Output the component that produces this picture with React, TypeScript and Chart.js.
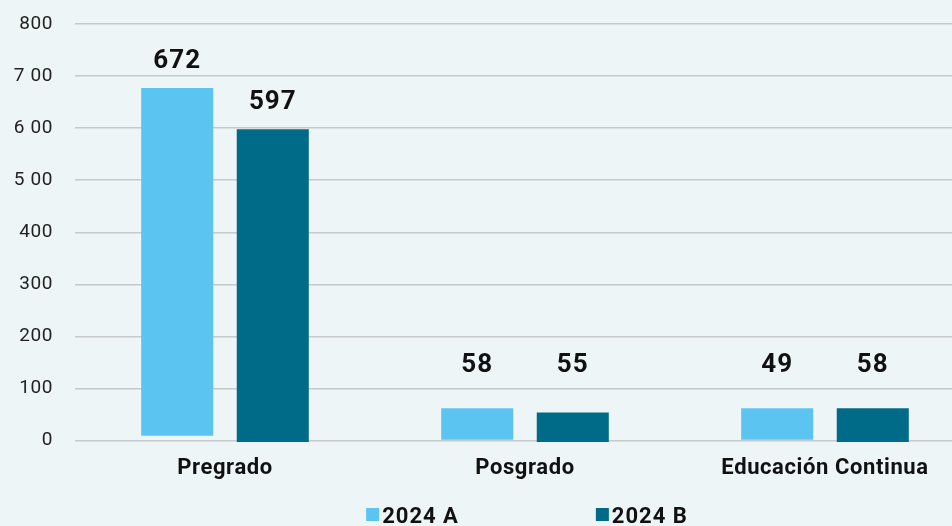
import React, { useEffect, useRef } from "react";
import { Chart, registerables } from "chart.js";

Chart.register(...registerables);

const categories = ["Pregrado", "Posgrado", "Educación Continua"];
const seriesNames = ["2024 A", "2024 B"];
// bar extents as drawn in the picture [base, top]
const seriesABase = [9, 0, 0];
const seriesATop = [677, 62, 62];
const seriesBBase = [-3, -3, -3];
const seriesBTop = [598, 54, 62];
// printed value labels
const labelsA = ["672", "58", "49"];
const labelsB = ["597", "55", "58"];
const yTickLabels = ["0", "100", "200", "300", "400", "5 00", "6 00", "7 00", "800"];

const FONT = "Roboto, 'Noto Sans', sans-serif";
const COLOR_A = "#5BC4F1";
const COLOR_B = "#006B88";
const BG = "#EDF5F6";

export default function App() {
  const ref = useRef<HTMLCanvasElement | null>(null);

  useEffect(() => {
    if (!ref.current) return;
    const spacing = {
      id: "spacing",
      beforeLayout(chart: any) {
        chart.ctx.letterSpacing = "0.6px";
      },
      beforeDraw(chart: any) {
        chart.ctx.letterSpacing = "0.6px";
      },
    };
    const valueLabels = {
      id: "valueLabels",
      afterDatasetsDraw(chart: any) {
        const ctx = chart.ctx;
        const yScale = chart.scales.y;
        const all = [labelsA, labelsB];
        ctx.save();
        ctx.letterSpacing = "1px";
        ctx.font = `bold 26px ${FONT}`;
        ctx.fillStyle = "#111111";
        ctx.textAlign = "center";
        ctx.textBaseline = "middle";
        chart.data.datasets.forEach((_d: any, di: number) => {
          const meta = chart.getDatasetMeta(di);
          meta.data.forEach((bar: any, i: number) => {
            const y = Math.min(bar.y - 27, yScale.getPixelForValue(145));
            ctx.fillText(all[di][i], bar.x, y);
          });
        });
        ctx.restore();
      },
    };
    const customLegend = {
      id: "customLegend",
      afterDraw(chart: any) {
        const ctx = chart.ctx;
        const area = chart.chartArea;
        ctx.save();
        ctx.letterSpacing = "1px";
        ctx.font = `bold 22px ${FONT}`;
        ctx.textBaseline = "middle";
        ctx.textAlign = "left";
        const box = 13;
        const gap = 3;
        const itemGap = 137;
        const items = chart.data.datasets.map((d: any) => ({
          text: d.label,
          color: d.backgroundColor,
          w: box + gap + ctx.measureText(d.label).width,
        }));
        const total = items.reduce((s: number, it: any) => s + it.w, 0) + itemGap * (items.length - 1);
        let x = (area.left + area.right) / 2 - total / 2 + 2;
        const cy = 516;
        items.forEach((it: any) => {
          ctx.fillStyle = it.color;
          ctx.fillRect(x, cy - 8, box, box);
          ctx.fillStyle = "#111111";
          ctx.fillText(it.text, x + box + gap, cy + 1);
          x += it.w + itemGap;
        });
        ctx.restore();
      },
    };

    const chart = new Chart(ref.current, {
      type: "bar",
      data: {
        labels: categories,
        datasets: [
          {
            label: seriesNames[0],
            data: seriesATop.map((t, i) => [seriesABase[i], t]) as any,
            backgroundColor: COLOR_A,
            categoryPercentage: 0.637,
            barPercentage: 0.754,
            clip: 6 as any,
          },
          {
            label: seriesNames[1],
            data: seriesBTop.map((t, i) => [seriesBBase[i], t]) as any,
            backgroundColor: COLOR_B,
            categoryPercentage: 0.637,
            barPercentage: 0.754,
            clip: 6 as any,
          },
        ],
      },
      options: {
        animation: false,
        responsive: true,
        maintainAspectRatio: false,
        layout: { padding: { top: 24, left: 0, right: 0, bottom: 0 } },
        plugins: {
          legend: { display: false },
          tooltip: { enabled: false },
        },
        scales: {
          x: {
            grid: { display: false },
            border: { display: false },
            ticks: {
              color: "#111111",
              font: { family: FONT, size: 22, weight: "bold" },
              padding: 7,
              maxRotation: 0,
              autoSkip: false,
            },
            afterFit(scale: any) {
              scale.height = 85.5;
            },
          },
          y: {
            min: 0,
            max: 800,
            grid: {
              color: "#C6CACA",
              lineWidth: 1.5,
              drawTicks: true,
              tickLength: 22,
              tickColor: "rgba(0,0,0,0)",
            },
            border: { display: false },
            ticks: {
              stepSize: 100,
              color: "#222222",
              padding: 0,
              font: { family: FONT, size: 19 },
              callback: (_v: any, i: number) => yTickLabels[i],
            },
            afterFit(scale: any) {
              scale.width = 75;
            },
          },
        },
      },
      plugins: [spacing, valueLabels, customLegend],
    });
    return () => chart.destroy();
  }, []);

  return (
    <div
      style={{
        position: "fixed",
        left: 0,
        top: 0,
        width: 952,
        height: 526,
        overflow: "hidden",
        background: BG,
      }}
    >
      <div style={{ position: "relative", width: 975, height: 526 }}>
        <canvas ref={ref} />
      </div>
    </div>
  );
}
